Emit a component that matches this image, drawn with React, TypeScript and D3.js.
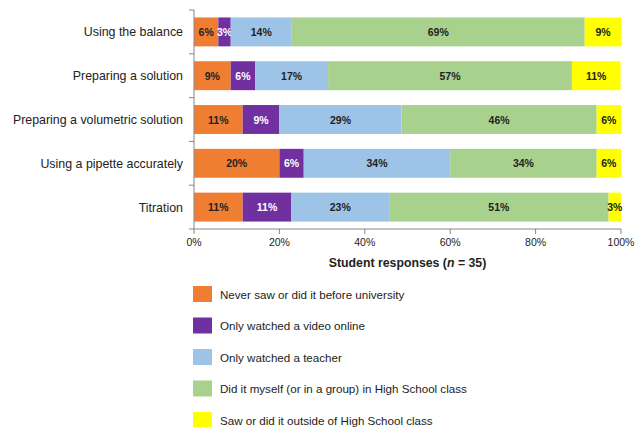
import * as d3 from "d3";

const categories = [
  "Using the balance",
  "Preparing a solution",
  "Preparing a volumetric solution",
  "Using a pipette accurately",
  "Titration",
];

const seriesNames = [
  "Never saw or did it before university",
  "Only watched a video online",
  "Only watched a teacher",
  "Did it myself (or in a group) in High School class",
  "Saw or did it outside of High School class",
];

const seriesColors = ["#F07E32", "#7030A0", "#9DC3E6", "#A9D18E", "#FFFF00"];
const labelColors = ["#222", "#fff", "#222", "#222", "#222"];

// percentages per category, in series order
const neverSaw = [5.7, 8.6, 11.4, 20.0, 11.4];
const videoOnline = [2.9, 5.7, 8.6, 5.7, 11.4];
const watchedTeacher = [14.3, 17.1, 28.6, 34.3, 22.9];
const didItMyself = [68.6, 57.1, 45.7, 34.3, 51.4];
const outsideClass = [8.6, 11.4, 5.7, 5.7, 2.9];

const xTicks = [0, 20, 40, 60, 80, 100];

const W = 635;
const H = 427;
const M = { left: 194, right: 14, top: 10, bottom: 198 };
const FONT = "'Liberation Sans', Arial, sans-serif";
const AXIS = "#868686";

const App = () => {
  const series = [neverSaw, videoOnline, watchedTeacher, didItMyself, outsideClass];
  const rows = categories.map((c, i) => {
    const r: Record<string, number | string> = { category: c };
    seriesNames.forEach((s, k) => (r[s] = series[k][i]));
    return r;
  });
  const stacked = d3.stack<any>().keys(seriesNames)(rows);

  const x = d3.scaleLinear().domain([0, 100]).range([M.left, W - M.right]);
  const y = d3
    .scaleBand()
    .domain(categories)
    .range([M.top, H - M.bottom])
    .paddingInner(0.34)
    .paddingOuter(0.17);
  const bottom = H - M.bottom;
  const step = y.step();

  const legendY = d3.scalePoint().domain(seriesNames).range([294, 420]);

  return (
    <svg
      width={W}
      height={H}
      style={{ position: "absolute", left: 0, top: 0, background: "#fff" }}
      fontFamily={FONT}
    >
      {stacked.map((layer, k) =>
        layer.map((d, i) => {
          const x0 = x(d[0]);
          const x1 = x(d[1]);
          const yy = y(categories[i])!;
          return (
            <g key={`${k}-${i}`}>
              <rect
                x={x0}
                y={yy}
                width={x1 - x0}
                height={y.bandwidth()}
                fill={seriesColors[k]}
              />
              <text
                x={(x0 + x1) / 2}
                y={yy + y.bandwidth() / 2 + 4}
                textAnchor="middle"
                fontSize={10.5}
                fontWeight="bold"
                fill={labelColors[k]}
              >
                {Math.round(d[1] - d[0])}%
              </text>
            </g>
          );
        })
      )}

      {/* y axis */}
      <line x1={M.left} x2={M.left} y1={M.top} y2={bottom} stroke={AXIS} />
      {d3.range(categories.length + 1).map((i) => (
        <line
          key={i}
          x1={M.left - 5}
          x2={M.left}
          y1={M.top + i * step}
          y2={M.top + i * step}
          stroke={AXIS}
        />
      ))}
      {categories.map((c) => (
        <text
          key={c}
          x={M.left - 11}
          y={y(c)! + y.bandwidth() / 2 + 4.5}
          textAnchor="end"
          fontSize={12.4}
          fill="#222"
        >
          {c}
        </text>
      ))}

      {/* x axis */}
      <line x1={M.left} x2={W - M.right} y1={bottom} y2={bottom} stroke={AXIS} />
      {xTicks.map((t) => (
        <g key={t}>
          <line x1={x(t)} x2={x(t)} y1={bottom} y2={bottom + 5} stroke={AXIS} />
          <text x={x(t)} y={bottom + 17} textAnchor="middle" fontSize={10.5} fill="#222">
            {t}%
          </text>
        </g>
      ))}
      <text
        x={(x(0) + x(100)) / 2}
        y={bottom + 38}
        textAnchor="middle"
        fontSize={12.3}
        fontWeight="bold"
        fill="#222"
      >
        Student responses (<tspan fontStyle="italic">n</tspan> = 35)
      </text>

      {/* legend */}
      {seriesNames.map((s, k) => (
        <g key={s} transform={`translate(193, ${legendY(s)})`}>
          <rect x={0} y={-8} width={19} height={16} fill={seriesColors[k]} />
          <text x={27} y={4.5} fontSize={11.6} fill="#222">
            {s}
          </text>
        </g>
      ))}
    </svg>
  );
};

export default App;
